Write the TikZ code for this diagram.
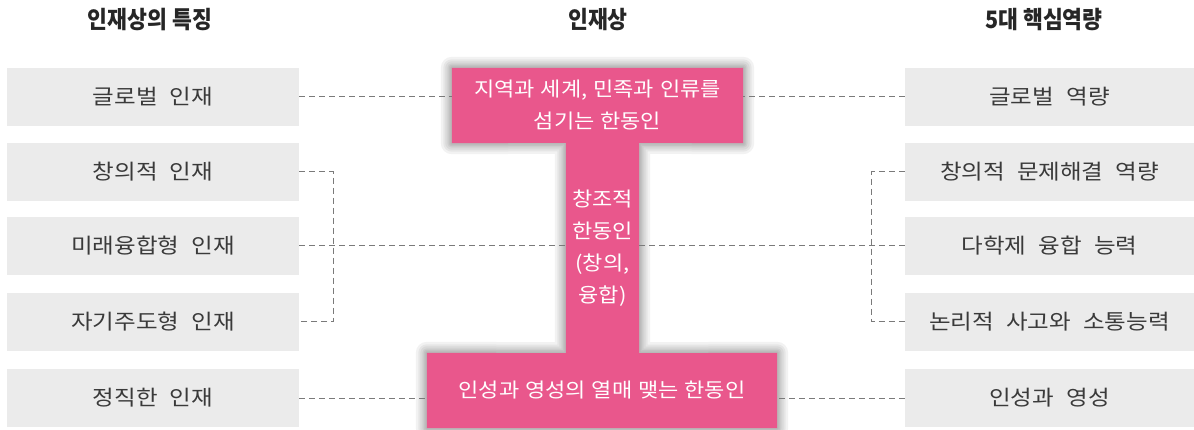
\documentclass[tikz,border=0pt]{standalone}
\usepackage{fontspec}
\newfontfamily\krbox[WordSpace=2.3,FakeStretch=1.12]{Noto Sans CJK KR}
\newfontfamily\krpink[WordSpace=1.2,FakeStretch=1.1]{Noto Sans CJK KR}
\newfontfamily\krhead[FakeStretch=0.9]{Noto Sans CJK KR}
\definecolor{pinkI}{HTML}{E9578C}
\definecolor{boxgray}{HTML}{EBEBEB}
\definecolor{txtgray}{HTML}{3A3A3A}
\definecolor{linegray}{HTML}{7A7A7A}
\pgfdeclarelayer{bgbg}
\pgfdeclarelayer{bg}
\pgfsetlayers{bgbg,bg,main}
\tikzset{
  sidebox/.style={fill=boxgray, draw=none, minimum height=58pt, inner sep=0pt,
    text=txtgray, font=\krbox\fontsize{21pt}{25pt}\selectfont},
  leftbox/.style={sidebox, minimum width=292pt},
  rightbox/.style={sidebox, minimum width=289pt},
  head/.style={text=black!85, font=\krhead\bfseries\fontsize{24pt}{28pt}\selectfont},
  pinkpart/.style={draw=none, inner sep=0pt, align=center, text=white,
    font=\krpink\fontsize{20pt}{32pt}\selectfont},
  conn/.style={draw=linegray, line width=1pt, dash pattern=on 6pt off 4pt},
  shadowline/.style={draw=black, line join=round, draw opacity=0.05, line width=#1}
}
\begin{document}
\begin{tikzpicture}[x=1pt,y=-1pt]
\begin{pgfonlayer}{bgbg}
  \fill[white] (0,0) rectangle (1194,430);
\end{pgfonlayer}
\useasboundingbox (0,0) rectangle (1194,430);

% headers
\node[head] (h1) at (150,20) {인재상의 특징};
\node[head] (h2) at (598,20) {인재상};
\node[head] (h3) at (1044,20) {5대 핵심역량};

% left boxes
\node[leftbox] (L1) at (153,97) {글로벌 인재};
\node[leftbox] (L2) at (153,172) {창의적 인재};
\node[leftbox] (L3) at (153,246) {미래융합형 인재};
\node[leftbox] (L4) at (153,322) {자기주도형 인재};
\node[leftbox] (L5) at (153,398) {정직한 인재};

% right boxes
\node[rightbox] (R1) at (1049.5,97) {글로벌 역량};
\node[rightbox] (R2) at (1049.5,172) {창의적 문제해결 역량};
\node[rightbox] (R3) at (1049.5,246) {다학제 융합 능력};
\node[rightbox] (R4) at (1049.5,322) {논리적 사고와 소통능력};
\node[rightbox] (R5) at (1049.5,398) {인성과 영성};

% central I shape
\node[pinkpart, minimum width=291pt, minimum height=75pt] (T) at (597.5,105.5)
  {지역과 세계, 민족과 인류를\\섬기는 한동인};
\node[pinkpart, minimum width=73pt, minimum height=210pt] (S) at (602.5,248)
  {창조적\\한동인\\(창의,\\융합)};
\node[pinkpart, minimum width=350pt, minimum height=75pt] (B) at (602,390.5)
  {인성과 영성의 열매 맺는 한동인};

\begin{pgfonlayer}{bg}
  \foreach \w in {22,17,13,9,6,3}{
    \path[shadowline=\w pt]
      (T.north west) -- (T.north east) -- (T.south east) -- (S.north east)
      -- (S.south east) -- (B.north east) -- (B.south east) -- (B.south west)
      -- (B.north west) -- (S.south west) -- (S.north west) -- (T.south west) -- cycle;
  }
  \fill[pinkI]
    (T.north west) -- (T.north east) -- (T.south east) -- (S.north east)
    -- (S.south east) -- (B.north east) -- (B.south east) -- (B.south west)
    -- (B.north west) -- (S.south west) -- (S.north west) -- (T.south west) -- cycle;
\end{pgfonlayer}

% connectors
\draw[conn] (L1.east) -- (L1.east -| T.west);
\draw[conn] (R1.west) -- (R1.west -| T.east);
\draw[conn] (L3.east) -- (L3.east -| S.west);
\draw[conn] (R3.west) -- (R3.west -| S.east);
\draw[conn] (L5.east) -- (L5.east -| B.west);
\draw[conn] (R5.west) -- (R5.west -| B.east);
\draw[conn] (L2.east) -- ++(34,0) |- (L4.east);
\draw[conn] (R2.west) -- ++(-33,0) |- (R4.west);
\end{tikzpicture}
\end{document}
